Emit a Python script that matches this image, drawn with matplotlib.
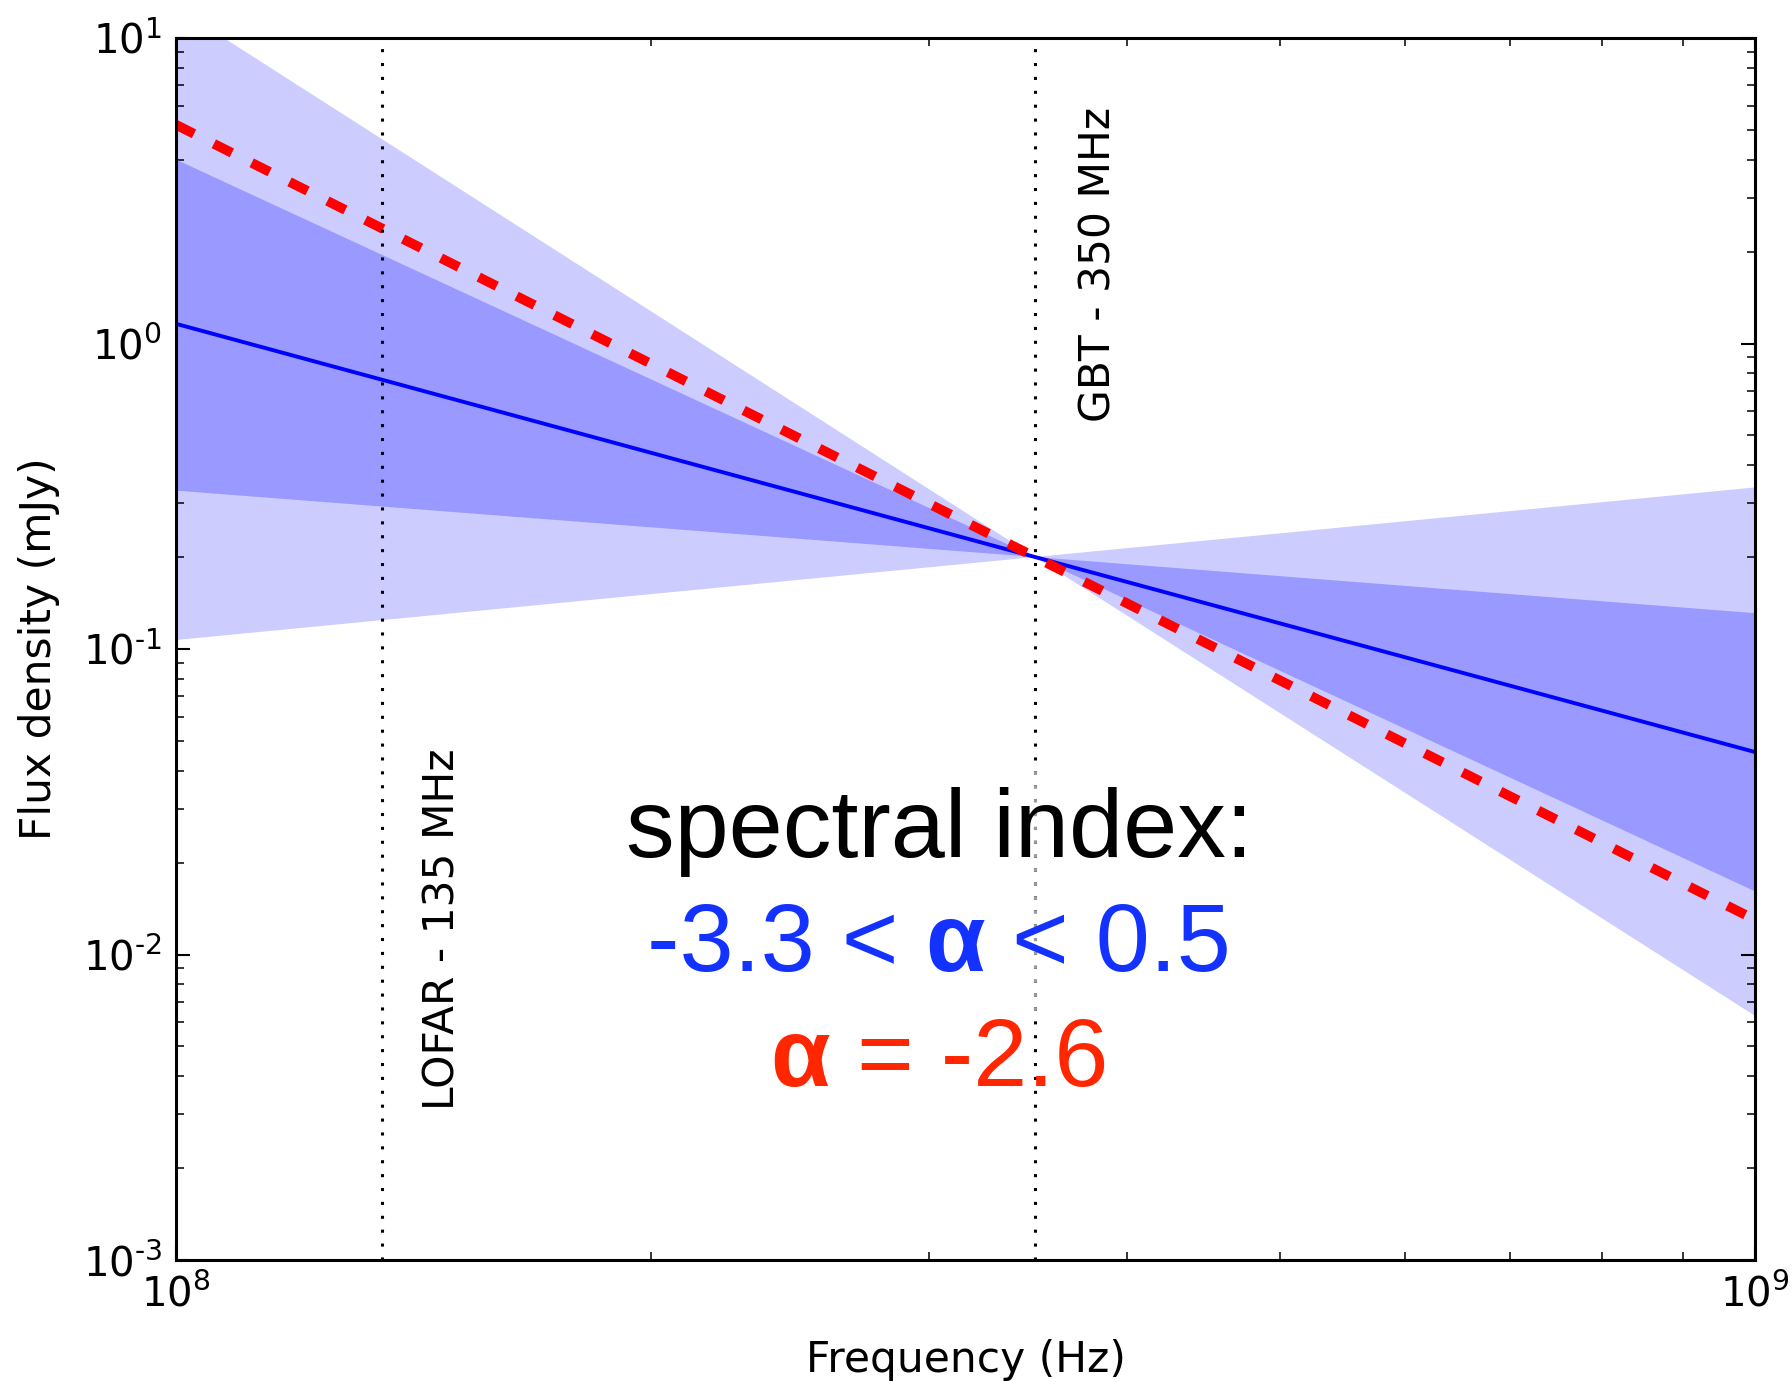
import matplotlib
matplotlib.use("Agg")
import matplotlib.pyplot as plt
from matplotlib.transforms import IdentityTransform
from matplotlib.patches import Rectangle
from matplotlib.ticker import FixedLocator, FuncFormatter, NullFormatter
import numpy as np

# ---- data ----
freq = [1e8, 3.5e8, 1e9]                 # Hz
light_a = [12.6, 0.2, 0.0063]             # alpha = -3.3 edge
light_b = [0.107, 0.2, 0.338]             # alpha = +0.5 edge
dark_a = [4.0, 0.2, 0.0161]               # alpha = -2.4 edge
dark_b = [0.33, 0.2, 0.131]               # alpha = -0.4 edge
best_fit = [1.16, 0.2, 0.046]             # alpha = -1.4
measured = [5.2, 0.2, 0.0130]             # alpha = -2.6
obs_freqs = [1.35e8, 3.5e8]
obs_labels = ["LOFAR - 135 MHz", "GBT - 350 MHz"]
x_ticks = [1e8, 1e9]
y_ticks = [1e-3, 1e-2, 1e-1, 1e0, 1e1]

W, H = 1792, 1382
plt.rcParams['axes.unicode_minus'] = False
plt.rcParams['lines.scale_dashes'] = False
plt.rcParams['font.family'] = ['DejaVu Sans']

fig = plt.figure(figsize=(W / 100, H / 100), dpi=100)
ax = fig.add_axes([176 / W, 1 - 1260 / H, (1755 - 176) / W, (1260 - 38) / H])
ax.set_xscale('log')
ax.set_yscale('log')
ax.set_xlim(1e8, 1e9)
ax.set_ylim(1e-3, 1e1)

ax.fill_between(freq, light_a, light_b, facecolor='#ccccff', edgecolor='none', zorder=1)
ax.fill_between(freq, dark_a, dark_b, facecolor='#9999ff', edgecolor='none', zorder=2)
ax.plot(freq, best_fit, color='#0000ff', lw=2.8, zorder=3, solid_capstyle='butt')
ax.plot(freq, measured, color='#ff0000', lw=7.0, zorder=4,
        linestyle=(0, (14.5, 16)), dash_capstyle='butt')

# annotation text pieces
def compose(parts, color, cx, by, size=70):
    r = fig.canvas.get_renderer()
    def width(s, w):
        t = fig.text(0, 0, s, fontsize=size, fontweight=w, family='Liberation Sans',
                     transform=IdentityTransform())
        wd = t.get_window_extent(r).width
        t.remove()
        return wd
    sp = width("a a", 'normal') - width("aa", 'normal')
    ws = [width(s, w) for s, w in parts]
    total = sum(ws) + sp * (len(parts) - 1)
    x = cx - total / 2
    for (s, w), wd in zip(parts, ws):
        fig.text(x, H - by, s, fontsize=size, fontweight=w, family='Liberation Sans',
                 color=color, ha='left', va='baseline', transform=IdentityTransform(),
                 zorder=5)
        x += wd + sp

compose([("spectral index:", 'normal')], 'black', 939, 857)
compose([("-3.3 <", 'normal'), ("α", 'bold'), ("< 0.5", 'normal')], '#1432ff', 939, 971)
compose([("α", 'bold'), ("= -2.6", 'normal')], '#ff2600', 939, 1086)

# vertical observation lines (on top of everything)
for f in obs_freqs:
    ax.axvline(f, color='black', lw=2.2, linestyle=(0, (2.2, 7.8)),
               dash_capstyle='butt', zorder=10)
# greyed part of the GBT line behind the translucent text box
clip = Rectangle((0.285, 0.2046), 0.40, 0.2021, transform=ax.transAxes,
                 facecolor='none', edgecolor='none')
ax.add_patch(clip)
gl = ax.axvline(obs_freqs[1], color='#9a9a9a', lw=2.2, linestyle=(0, (2.2, 7.8)),
                dash_capstyle='butt', zorder=11)
gl.set_clip_path(clip)

ax.text(1.474e8, 0.1227, obs_labels[0], rotation=90, ha='center', va='bottom',
        fontsize=30.5, transform=ax.get_xaxis_transform(), zorder=12)
ax.text(3.837e8, 0.686, obs_labels[1], rotation=90, ha='center', va='bottom',
        fontsize=30.5, transform=ax.get_xaxis_transform(), zorder=12)

# axes styling
def pow_label(v, pos):
    e = int(round(np.log10(v)))
    es = r"\text{-}%d" % (-e) if e < 0 else "%d" % e
    return r"$\mathdefault{10^{%s}}$" % es

ax.xaxis.set_major_locator(FixedLocator(x_ticks))
ax.yaxis.set_major_locator(FixedLocator(y_ticks))
ax.xaxis.set_major_formatter(FuncFormatter(pow_label))
ax.yaxis.set_major_formatter(FuncFormatter(pow_label))
ax.xaxis.set_minor_formatter(NullFormatter())
ax.yaxis.set_minor_formatter(NullFormatter())

for s in ax.spines.values():
    s.set_linewidth(2.2)
    s.set_zorder(20)
ax.tick_params(which='both', direction='in', top=True, right=True)
ax.tick_params(which='major', length=10, width=1.5, labelsize=29)
ax.tick_params(which='minor', length=5.8, width=1.1)
ax.tick_params(axis='x', which='major', pad=10.5)
ax.tick_params(axis='y', which='major', pad=10)

fig.text(966 / W, 1 - 1372 / H, "Frequency (Hz)", fontsize=30.5, ha='center', va='baseline')
fig.text(39 / W, 1 - 649 / H, "Flux density (mJy)", fontsize=30.5, ha='center', va='center',
         rotation=90)

fig.savefig("out.png", dpi=100, facecolor='white')
